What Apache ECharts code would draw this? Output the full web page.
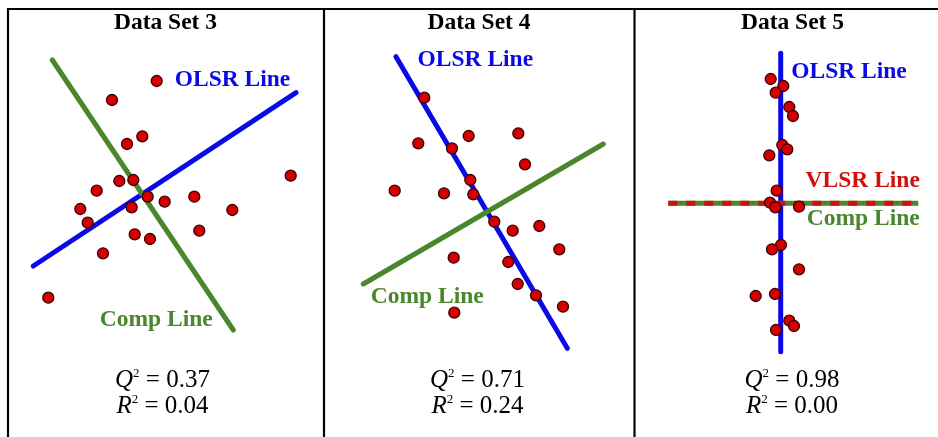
<!DOCTYPE html>
<html>
<head>
<meta charset="utf-8">
<script src="https://cdn.jsdelivr.net/npm/echarts@6/dist/echarts.min.js"></script>
<style>
html,body{margin:0;padding:0;background:#fff;}
#chart{width:938px;height:437px;}
</style>
</head>
<body>
<div id="chart"></div>
<script>
// Panel titles and statistics
var panelTitles = ['Data Set 3', 'Data Set 4', 'Data Set 5'];
var q2Values = ['0.37', '0.71', '0.98'];
var r2Values = ['0.04', '0.24', '0.00'];

// Data Set 3 (arbitrary units, y upward)
var ds3Points = [[148.7,356],[104,337],[134.3,300.7],[119,293],[111.3,256],[125.3,257],[88.7,246.3],[139.7,240.3],[186.3,240.3],[156.7,235.3],[72.3,228],[123.7,229.7],[224.3,227],[79.7,214.3],[191.3,206.3],[126.7,202.7],[142,198],[95,183.7],[40.3,139.3],[282.7,261.3]];
var ds3Olsr = [[25.3,171],[288,344.3]];
var ds3Comp = [[44.3,377],[225.3,107]];

// Data Set 4
var ds4Points = [[100.3,339.3],[94.3,293.7],[144.7,301],[194.3,303.7],[128,288.7],[201,272.7],[146.3,257],[70.7,246.3],[120,243.7],[149.3,242.7],[170.3,215.3],[188.7,206.3],[215.3,211],[235.3,187.7],[129.7,179.3],[184.3,175],[193.7,153],[212,141.7],[239,130.3],[130.3,124.3]];
var ds4Olsr = [[72,380.3],[243.3,88.7]];
var ds4Comp = [[39.3,153],[279.3,293]];

// Data Set 5
var ds5Points = [[135.7,358],[148.3,351],[140.7,344.3],[154.3,330],[158,321],[147.3,292],[152.3,287.7],[134.3,281.7],[141.7,246.3],[135,234.3],[140.3,229.7],[164,230.3],[146,192],[137,187.7],[164,167.7],[120.7,141],[140,143],[154.3,116.3],[159,111],[141,107]];
var ds5Olsr = [[145.7,383.7],[145.7,85.3]];
var ds5Vlsr = [[33.3,233.7],[283.3,233.7]];
var ds5Comp = [[33.3,233.7],[283.3,233.7]];

var BLUE = '#0a0ae6', GREEN = '#4a862c', RED = '#d40000', DRED = '#d01010';
var panels = [{left: 8, width: 316}, {left: 324, width: 311}, {left: 635, width: 303}];

var grids = [], xAxes = [], yAxes = [];
panels.forEach(function (p, i) {
  grids.push({left: p.left, top: 0, width: p.width, height: 437});
  xAxes.push({type: 'value', gridIndex: i, min: 0, max: p.width, show: false});
  yAxes.push({type: 'value', gridIndex: i, min: 0, max: 437, show: false});
});

function lineSeries(idx, data, color, width, dash, z) {
  return {
    type: 'line', xAxisIndex: idx, yAxisIndex: idx, data: data,
    symbol: 'none', silent: true, animation: false, z: z || 2,
    lineStyle: {color: color, width: width, type: dash || 'solid', cap: dash ? 'butt' : 'round'}
  };
}
function pointSeries(idx, data) {
  return {
    type: 'scatter', xAxisIndex: idx, yAxisIndex: idx, data: data,
    symbolSize: 11, animation: false, z: 5,
    itemStyle: {color: RED, borderColor: '#3a0000', borderWidth: 1.3, opacity: 1}
  };
}

var series = [
  lineSeries(0, ds3Olsr, BLUE, 5), lineSeries(0, ds3Comp, GREEN, 5), pointSeries(0, ds3Points),
  lineSeries(1, ds4Olsr, BLUE, 5), lineSeries(1, ds4Comp, GREEN, 5), pointSeries(1, ds4Points),
  lineSeries(2, ds5Olsr, BLUE, 5), lineSeries(2, ds5Comp, GREEN, 5, 'solid', 2),
  lineSeries(2, ds5Vlsr, DRED, 5, [9, 9], 3), pointSeries(2, ds5Points)
];

var SERIF = '"Liberation Serif", "DejaVu Serif", serif';
function label(text, x, y, color, size) {
  return {type: 'text', x: x, y: y, z: 10, silent: true,
    style: {text: text, font: 'bold ' + (size || 23.5) + 'px ' + SERIF, fill: color, align: 'center', verticalAlign: 'middle'}};
}
function stat(letter, val, x, y) {
  return {type: 'text', x: x, y: y, z: 10, silent: true,
    style: {text: '{i|' + letter + '}{s|2}{n| = ' + val + '}', align: 'center', verticalAlign: 'middle',
      rich: {
        i: {font: 'italic 25px ' + SERIF, fill: '#000', verticalAlign: 'bottom'},
        s: {font: '13px ' + SERIF, fill: '#000', verticalAlign: 'top'},
        n: {font: '25px ' + SERIF, fill: '#000', verticalAlign: 'bottom'}
      }}};
}
function rule(x1, y1, x2, y2) {
  return {type: 'line', z: 20, silent: true, shape: {x1: x1, y1: y1, x2: x2, y2: y2},
    style: {stroke: '#000', lineWidth: 2.2}};
}

var titleX = [165.5, 479, 792.5];
var statX = [162.5, 477.5, 792];
var graphics = [
  rule(7, 9, 938, 9), rule(8, 8, 8, 437), rule(324, 8, 324, 437), rule(634.5, 8, 634.5, 437),
  label('OLSR Line', 232.5, 80, BLUE), label('Comp Line', 156.3, 320, GREEN),
  label('OLSR Line', 475.3, 60, BLUE), label('Comp Line', 427.3, 297.3, GREEN),
  label('OLSR Line', 849, 71.7, BLUE), label('VLSR Line', 862.7, 180.7, DRED), label('Comp Line', 863.3, 219.3, GREEN)
];
panelTitles.forEach(function (t, i) {
  graphics.push(label(t, titleX[i], 23, '#000', 23.5));
  graphics.push(stat('Q', q2Values[i], statX[i], 380));
  graphics.push(stat('R', r2Values[i], statX[i], 406));
});

var chart = echarts.init(document.getElementById('chart'), null, {renderer: 'canvas'});
chart.setOption({
  backgroundColor: '#fff',
  animation: false,
  grid: grids, xAxis: xAxes, yAxis: yAxes,
  series: series,
  graphic: graphics
});
</script>
</body>
</html>
